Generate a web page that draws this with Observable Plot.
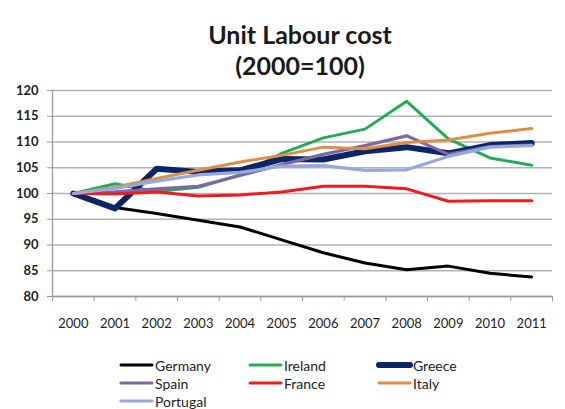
<!DOCTYPE html>
<html>
<head>
<meta charset="utf-8">
<script src="https://cdn.jsdelivr.net/npm/d3@7"></script>
<script src="https://cdn.jsdelivr.net/npm/@observablehq/plot@0.6"></script>
<style>
  html, body { margin: 0; padding: 0; background: #fff; width: 565px; height: 409px; overflow: hidden; }
  #title { position: absolute; left: 0; top: 0; width: 600px; text-align: center; font-family: Lato, "Open Sans", sans-serif; font-weight: bold; font-size: 25px; line-height: 31px; color: #1a1a1a; padding-top: 19px; }
  #chart { position: absolute; left: 0; top: 80px; }
  #legend { position: absolute; left: 0; top: 0; font-family: Lato, "Open Sans", sans-serif; font-size: 14px; color: #222; }
  .item { position: absolute; display: flex; align-items: center; height: 18px; }
  .item svg { display: block; }
</style>
</head>
<body>
<div id="title">Unit Labour cost<br>(2000=100)</div>
<div id="chart"></div>
<div id="legend"></div>
<script>
const years = [2000, 2001, 2002, 2003, 2004, 2005, 2006, 2007, 2008, 2009, 2010, 2011];
const yTicks = [80, 85, 90, 95, 100, 105, 110, 115, 120];
const countries = ["Germany", "Ireland", "Greece", "Spain", "France", "Italy", "Portugal"];
const germany  = [100, 97.3, 96.1, 94.8, 93.5, 91.0, 88.5, 86.5, 85.2, 85.9, 84.5, 83.8];
const ireland  = [100, 101.9, 100.4, 101.2, 103.6, 107.8, 110.8, 112.5, 117.9, 110.6, 106.9, 105.5];
const greece   = [100, 97.1, 104.8, 104.2, 104.5, 106.7, 106.6, 108.2, 109.0, 107.8, 109.4, 109.8];
const spain    = [100, 100.3, 100.9, 101.4, 103.5, 105.6, 107.6, 109.3, 111.2, 107.6, 109.1, 109.4];
const france   = [100, 99.9, 100.3, 99.5, 99.7, 100.3, 101.4, 101.4, 100.9, 98.5, 98.6, 98.6];
const italy    = [100, 101.2, 102.9, 104.5, 106.1, 107.4, 109.0, 108.7, 109.9, 110.4, 111.7, 112.6];
const portugal = [100, 101.0, 102.4, 103.6, 104.1, 105.3, 105.4, 104.5, 104.6, 107.2, 109.0, 109.3];
const seriesValues = [germany, ireland, greece, spain, france, italy, portugal];
const colors = ["#000000", "#21ad55", "#0b2566", "#7d68a3", "#ee1c1c", "#dd8f45", "#97a8dc"];
const widths = [3, 3, 6, 3.2, 3, 3, 3.2];

const data = [];
countries.forEach((c, i) => years.forEach((yr, j) => data.push({country: c, year: yr, value: seriesValues[i][j]})));
const boundaries = years.concat([years[years.length - 1] + 1]).map(y => y - 0.5);

const lineMarks = countries.map((c, i) =>
  Plot.line(data.filter(d => d.country === c), {
    x: "year", y: "value", stroke: colors[i], strokeWidth: widths[i],
    strokeLinejoin: "round", strokeLinecap: "round"
  })
);

const plot = Plot.plot({
  width: 565,
  height: 256,
  marginLeft: 52,
  marginRight: 13,
  marginTop: 10,
  marginBottom: 40,
  style: { fontFamily: "Lato, 'Open Sans', sans-serif", fontSize: "13px", color: "#222", background: "#fff" },
  x: { type: "linear", domain: [years[0] - 0.5, years[years.length - 1] + 0.5], axis: null },
  y: { type: "linear", domain: [80, 120], axis: null },
  marks: [
    Plot.gridY(yTicks, { stroke: "#b3b3b3", strokeOpacity: 1, strokeWidth: 1.3 }),
    Plot.ruleX([years[0] - 0.5], { stroke: "#9a9a9a", strokeWidth: 1.3 }),
    Plot.ruleY([80], { stroke: "#9a9a9a", strokeWidth: 1.3 }),
    Plot.axisY(yTicks, { anchor: "left", tickSize: 5, tickPadding: 9, stroke: "#9a9a9a", tickFormat: d => String(d), fill: "#222", label: null, fontWeight: "bold" }),
    Plot.axisX(boundaries, { anchor: "bottom", tickSize: 5, tickFormat: () => "", stroke: "#9a9a9a", label: null }),
    Plot.axisX(years, { anchor: "bottom", tickSize: 0, tickPadding: 22, tickFormat: d => String(d), fill: "#222", label: null }),
    ...lineMarks
  ]
});
document.getElementById("chart").appendChild(plot);

// legend
const legend = document.getElementById("legend");
const colX = [118, 247, 376];
const rowY = [356, 374, 392];
countries.forEach((c, i) => {
  const item = document.createElement("div");
  item.className = "item";
  item.style.left = colX[i % 3] + "px";
  item.style.top = rowY[Math.floor(i / 3)] + "px";
  const sw = d3.create("svg").attr("width", 37).attr("height", 18);
  sw.append("line").attr("x1", 3).attr("x2", 34).attr("y1", 9).attr("y2", 9)
    .attr("stroke", colors[i]).attr("stroke-width", widths[i]).attr("stroke-linecap", "round");
  item.appendChild(sw.node());
  const t = document.createElement("span");
  t.textContent = c;
  item.appendChild(t);
  legend.appendChild(item);
});
</script>
</body>
</html>
